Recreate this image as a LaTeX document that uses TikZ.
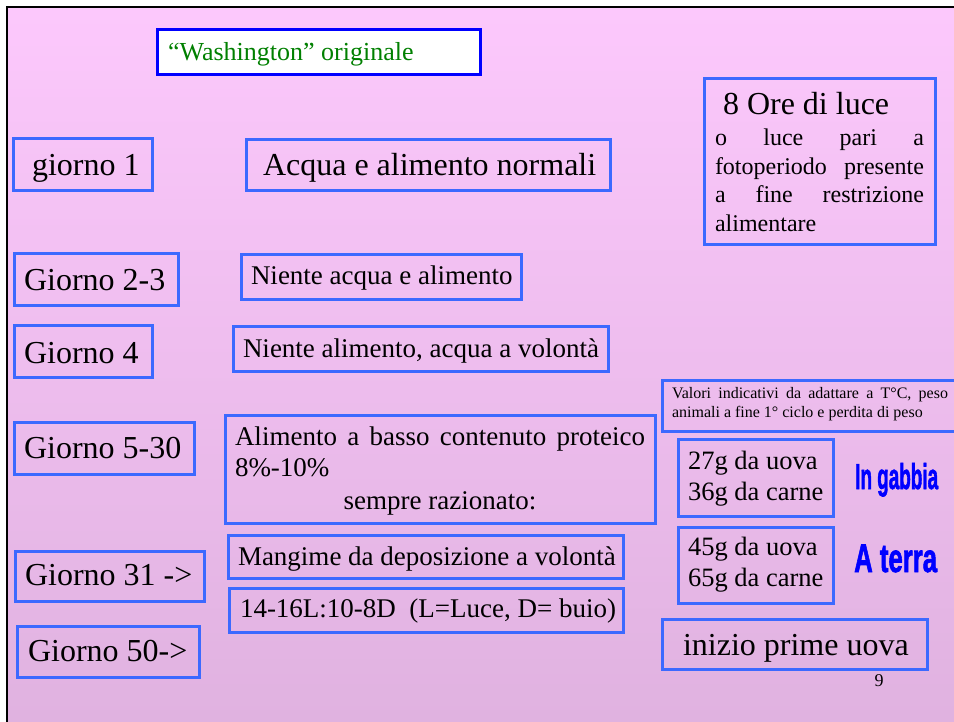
\documentclass[tikz,border=0pt]{standalone}
\usepackage{fontspec}
\usepackage{graphicx}
\setmainfont{Liberation Serif}
\newfontfamily\hdfont{Liberation Sans}[BoldFeatures={FakeBold=2}]
\definecolor{bgtop}{RGB}{252,200,252}
\definecolor{bgbot}{RGB}{224,178,224}
\definecolor{boxblue}{RGB}{60,105,255}
\definecolor{puregreen}{RGB}{0,128,0}
\definecolor{pureblue}{RGB}{0,0,255}
\begin{document}
\begin{tikzpicture}[x=1pt,y=-1pt]
\tikzset{
  bx/.style={draw=boxblue, line width=3pt, rectangle, anchor=north west, inner ysep=0pt, outer sep=0pt},
  tbig/.style={font=\fontsize{32}{38}\selectfont},
  tmid/.style={font=\fontsize{27}{32}\selectfont},
  tval/.style={font=\fontsize{26.5}{31}\selectfont},
  tsmall/.style={font=\fontsize{16}{20}\selectfont},
  hd/.style={anchor=base west, inner sep=0pt, text=pureblue}
}
\useasboundingbox (0,0) rectangle (954,722);
\fill[white] (0,0) rectangle (954,722);
\shade[top color=bgtop, bottom color=bgbot] (7,7) rectangle (954,722);
\draw[line width=2.5pt] (7,722) -- (7,7) -- (954,7);

% title
\node[bx, draw=pureblue, fill=white, inner xsep=11pt, text height=31pt, text depth=14pt, text=puregreen, font=\fontsize{26}{31}\selectfont] (wash) at (157,30) {\makebox[301pt][l]{``Washington'' originale}};

% day column
\node[bx, tbig, inner xsep=19pt, text height=37pt, text depth=15pt] (g1) at (13,139) {\makebox[101pt][l]{giorno 1}};
\node[bx, tbig, inner xsep=10pt, text height=37pt, text depth=15pt] (g23) at (14,254) {\makebox[144pt][l]{Giorno 2-3}};
\node[bx, tbig, inner xsep=10pt, text height=37pt, text depth=14pt] (g4) at (14,326) {\makebox[118pt][l]{Giorno 4}};
\node[bx, tbig, inner xsep=10pt, text height=36pt, text depth=16pt] (g530) at (14,422) {\makebox[160pt][l]{Giorno 5-30}};
\node[bx, tbig, inner xsep=10pt, text height=34pt, text depth=16pt] (g31) at (15,551) {\makebox[169pt][l]{Giorno 31 ->}};
\node[bx, tbig, inner xsep=11pt, text height=35pt, text depth=16pt] (g50) at (17,626) {\makebox[160pt][l]{Giorno 50->}};

% middle column
\node[bx, tbig, inner xsep=17pt, text height=36pt, text depth=15pt] (acq) at (246,140) {\makebox[330pt][l]{Acqua e alimento normali}};
\node[bx, tmid, inner xsep=10pt, text height=30pt, text depth=15pt] (n1) at (241,255) {\makebox[260pt][l]{Niente acqua e alimento}};
\node[bx, tmid, inner xsep=10pt, text height=30pt, text depth=14pt] (n2) at (233,327) {\makebox[355pt][l]{Niente alimento, acqua a volontà}};
\node[bx, tmid, inner xsep=10pt, text height=30pt, text depth=78pt] (alim) at (225,415) {\parbox[t]{410pt}{\hbox to 410pt{Alimento\hfill a\hfill basso\hfill contenuto\hfill proteico}\hbox{8\%-10\%}\hbox to 410pt{\hfill sempre razionato:\hfill}}};
\node[bx, tmid, inner xsep=10pt, text height=30pt, text depth=13pt] (mang) at (228,535) {\makebox[375pt][l]{Mangime da deposizione a volontà}};
\node[bx, tmid, inner xsep=11pt, text height=29pt, text depth=15pt] (luce) at (229,588) {\makebox[372pt][l]{14-16L:10-8D\ \ (L=Luce, D= buio)}};

% right column
\node[bx, inner xsep=11pt, text height=36pt, text depth=130pt] (ore) at (704,79) {\parbox[t]{209pt}{\fontsize{32}{38}\selectfont\hspace*{8pt}8 Ore di luce\par\fontsize{24}{28.5}\selectfont\vspace{2.5pt}\hbox to 209pt{o\hfill luce\hfill pari\hfill a}\hbox to 209pt{fotoperiodo\hfill presente}\hbox to 209pt{a\hfill fine\hfill restrizione}\hbox{alimentare}}};
\node[bx, tsmall, inner xsep=10pt, text height=18pt, text depth=33pt] (val) at (662,380) {\parbox[t]{283pt}{\hbox to 276pt{Valori\hfill indicativi\hfill da\hfill adattare\hfill a\hfill T°C,\hfill peso}\hbox{animali a fine 1° ciclo e perdita di peso}}};
\node[bx, tval, inner xsep=10pt, text height=30pt, text depth=47pt] (u27) at (678,439) {\parbox[t]{139pt}{\hbox{27g da uova}\hbox{36g da carne}}};
\node[bx, tval, inner xsep=10pt, text height=28pt, text depth=48pt] (u45) at (678,527) {\parbox[t]{140pt}{\hbox{45g da uova}\hbox{65g da carne}}};
\node[hd, font=\hdfont\bfseries\fontsize{36}{42}\selectfont] (gab) at (855,489) {\scalebox{0.525}[1]{In gabbia}};
\node[hd, font=\hdfont\bfseries\fontsize{40}{46}\selectfont] (ter) at (854,572) {\scalebox{0.643}[1]{A terra}};
\node[bx, tbig, inner xsep=21pt, text height=36pt, text depth=14pt] (uova) at (662,619) {\makebox[223pt][l]{inizio prime uova}};
\node[anchor=base, inner sep=0pt, font=\fontsize{18}{20}\selectfont] (pg) at (879,686) {9};
\end{tikzpicture}
\end{document}
